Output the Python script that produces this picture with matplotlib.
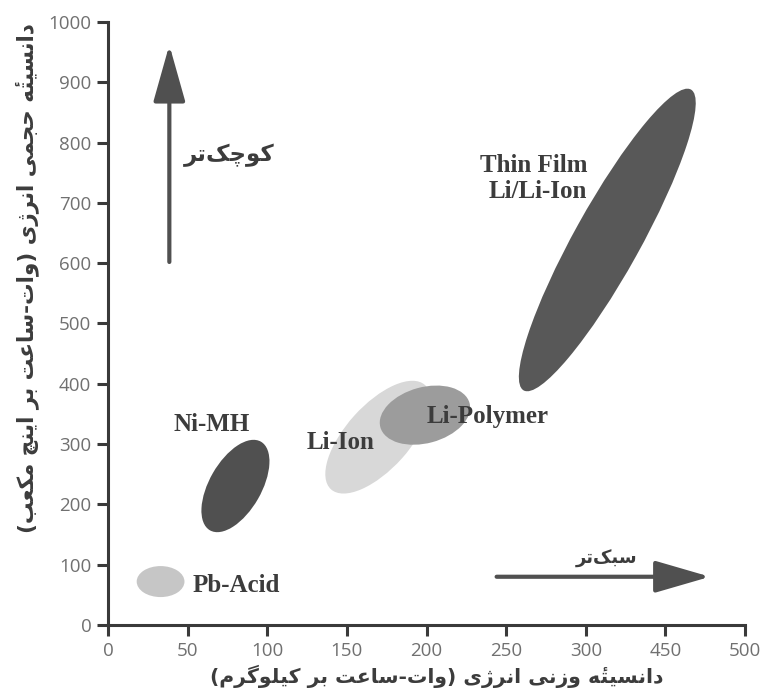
import matplotlib
matplotlib.use("Agg")
import matplotlib.pyplot as plt
from matplotlib.patches import Ellipse
from matplotlib.transforms import IdentityTransform
import numpy as np

# ---------------- data ----------------
x_tick_pos = [0, 50, 100, 150, 200, 250, 300, 350, 400]
x_tick_labels = ['0', '50', '100', '150', '200', '250', '300', '450', '500']
y_ticks = [0, 100, 200, 300, 400, 500, 600, 700, 800, 900, 1000]

techs = ['Pb-Acid', 'Ni-MH', 'Li-Ion', 'Li-Polymer', 'Thin Film\nLi/Li-Ion']
# major axis end points of each ellipse (axis units)
x_start = [18, 64, 140, 171, 261]
x_end = [48, 96, 199, 227, 366]
y_start = [72, 157, 225, 328, 389]
y_end = [72, 304, 398, 368, 888]

xlabel = 'دانسیتۀ وزنی انرژی (وات-ساعت بر کیلوگرم)'
ylabel = 'دانسیتۀ حجمی انرژی (وات-ساعت بر اینچ مکعب)'
smaller = 'کوچک\u200cتر'
lighter = 'سبک\u200cتر'

# ---------------- styles ----------------
minor_px = [31, 52, 64, 56, 66]
colors = ['#c6c6c6', '#505050', '#d8d8d8', '#9c9c9c', '#585858']
label_xy = [(53, 66), (65, 332), (146, 302), (200, 345), (301, 740)]
label_ha = ['left', 'center', 'center', 'left', 'right']

# ---------------- minimal Persian shaping ----------------
FORMS = {
    '\u0627': ('\uFE8D', '\uFE8E', None, None),
    '\u0628': ('\uFE8F', '\uFE90', '\uFE91', '\uFE92'),
    '\u062A': ('\uFE95', '\uFE96', '\uFE97', '\uFE98'),
    '\u062C': ('\uFE9D', '\uFE9E', '\uFE9F', '\uFEA0'),
    '\u062D': ('\uFEA1', '\uFEA2', '\uFEA3', '\uFEA4'),
    '\u062F': ('\uFEA9', '\uFEAA', None, None),
    '\u0631': ('\uFEAD', '\uFEAE', None, None),
    '\u0632': ('\uFEAF', '\uFEB0', None, None),
    '\u0633': ('\uFEB1', '\uFEB2', '\uFEB3', '\uFEB4'),
    '\u0639': ('\uFEC9', '\uFECA', '\uFECB', '\uFECC'),
    '\u0644': ('\uFEDD', '\uFEDE', '\uFEDF', '\uFEE0'),
    '\u0645': ('\uFEE1', '\uFEE2', '\uFEE3', '\uFEE4'),
    '\u0646': ('\uFEE5', '\uFEE6', '\uFEE7', '\uFEE8'),
    '\u0647': ('\uFEE9', '\uFEEA', '\uFEEB', '\uFEEC'),
    '\u0648': ('\uFEED', '\uFEEE', None, None),
    '\u06CC': ('\uFBFC', '\uFBFD', '\uFBFE', '\uFBFF'),
    '\u06A9': ('\uFB8E', '\uFB8F', '\uFB90', '\uFB91'),
    '\u06AF': ('\uFB92', '\uFB93', '\uFB94', '\uFB95'),
    '\u0686': ('\uFB7A', '\uFB7B', '\uFB7C', '\uFB7D'),
    '\u0698': ('\uFB8A', '\uFB8B', None, None),
    # heh with hamza: heh forms + combining hamza above
    '\u06C0': ('\uFEE9\u0654', '\uFEEA\u0654', None, None),
}
MIRROR = {'(': ')', ')': '('}


def shape(s):
    out = []
    n = len(s)
    for i, ch in enumerate(s):
        if ch == '\u200c':
            continue
        if ch not in FORMS:
            out.append(MIRROR.get(ch, ch))
            continue
        prev = s[i - 1] if i > 0 else ''
        nxt = s[i + 1] if i + 1 < n else ''
        join_prev = prev in FORMS and FORMS[prev][2] is not None
        dual = FORMS[ch][2] is not None
        join_next = dual and nxt in FORMS
        iso, fin, ini, med = FORMS[ch]
        g = med if (join_prev and join_next) else fin if join_prev else ini if join_next else iso
        # keep base before mark after the visual reversal
        out.append(g[::-1])
    return ''.join(out)[::-1]


# ---------------- figure ----------------
fig = plt.figure(figsize=(7.64, 6.98), dpi=100)
ax = fig.add_axes([0.1414, 0.1046, 0.8338, 0.8639])
ax.set_xlim(0, 400)
ax.set_ylim(0, 1000)

for s in ['top', 'right']:
    ax.spines[s].set_visible(False)
for s in ['left', 'bottom']:
    ax.spines[s].set_color('#3a3a3a')
    ax.spines[s].set_linewidth(2.2)
ax.tick_params(direction='out', length=8, width=2.2, color='#3a3a3a',
               labelcolor='#707070', labelsize=13.5, pad=4)
ax.set_xticks(x_tick_pos)
ax.set_xticklabels(x_tick_labels, family=['Open Sans', 'DejaVu Sans'])
ax.set_yticks(y_ticks)
ax.set_yticklabels([str(v) for v in y_ticks], family=['Open Sans', 'DejaVu Sans'])

fig.canvas.draw()
for i in range(len(techs)):
    p1 = ax.transData.transform((x_start[i], y_start[i]))
    p2 = ax.transData.transform((x_end[i], y_end[i]))
    c = (p1 + p2) / 2
    d = p2 - p1
    length = np.hypot(d[0], d[1])
    ang = np.degrees(np.arctan2(d[1], d[0]))
    e = Ellipse(c, length, minor_px[i], angle=ang, transform=IdentityTransform(),
                facecolor=colors[i], edgecolor='none', zorder=2 + 0.1 * i,
                clip_on=False)
    ax.add_artist(e)
    ax.text(label_xy[i][0], label_xy[i][1], techs[i], ha=label_ha[i], va='center',
            family='Liberation Serif', fontweight='bold', fontsize=18,
            color='#3c3c3c', linespacing=1.15, zorder=5, multialignment='right')

# arrows
ax.annotate('', xy=(38.5, 962), xytext=(38.5, 602),
            arrowprops=dict(arrowstyle='-|>,head_length=1.6,head_width=0.45',
                            lw=3.0, color='#505050', shrinkA=0, shrinkB=0,
                            mutation_scale=22))
ax.annotate('', xy=(378, 80), xytext=(244, 80),
            arrowprops=dict(arrowstyle='-|>,head_length=1.55,head_width=0.45',
                            lw=3.0, color='#505050', shrinkA=0, shrinkB=0,
                            mutation_scale=22))

ax.text(76, 779, shape(smaller), ha='center', va='center',
        family='DejaVu Sans', fontweight='bold', fontsize=16.5, color='#3c3c3c')
ax.text(313, 109, shape(lighter), ha='center', va='center',
        family='DejaVu Sans', fontweight='bold', fontsize=13, color='#3c3c3c')

fig.text(0.5716, 0.0315, shape(xlabel), ha='center', va='center',
         family='DejaVu Sans', fontweight='bold', fontsize=14.7, color='#3c3c3c')
fig.text(0.036, 0.602, shape(ylabel), ha='center', va='center', rotation=90,
         family='DejaVu Sans', fontweight='bold', fontsize=15.5, color='#3c3c3c')

fig.savefig('out.png', dpi=100)
